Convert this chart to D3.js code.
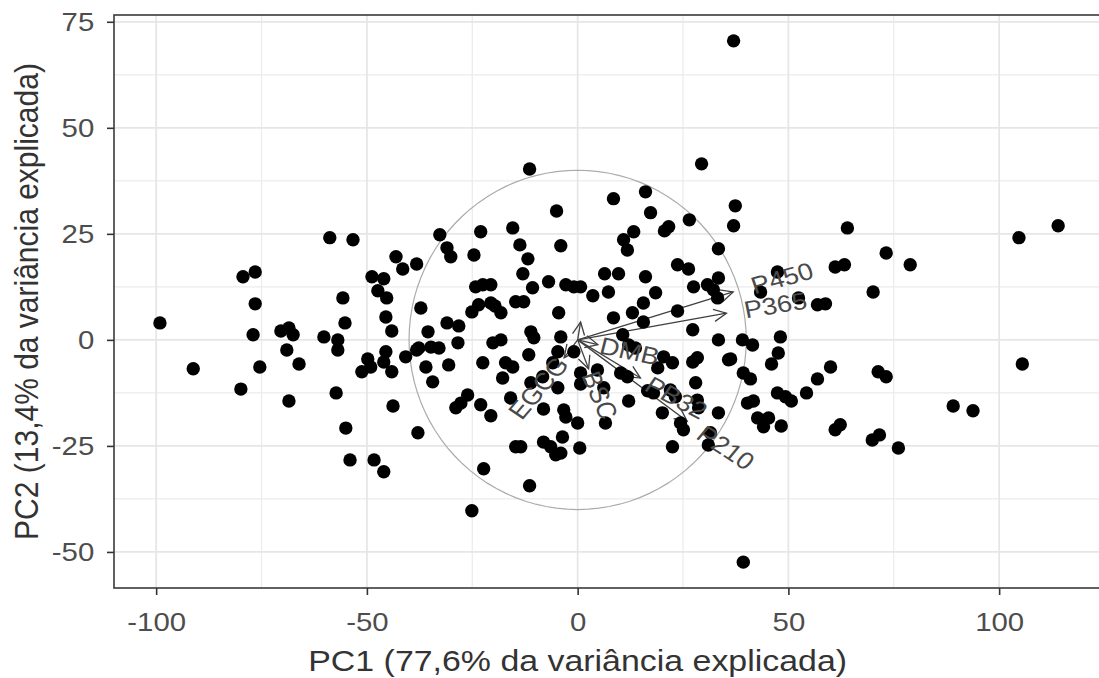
<!DOCTYPE html>
<html>
<head>
<meta charset="utf-8">
<script src="https://cdn.jsdelivr.net/npm/d3@7"></script>
<style>
  body { margin: 0; background: #fff; }
  svg text { font-family: "Liberation Sans", Arial, sans-serif; }
</style>
</head>
<body>
<div id="chart"></div>
<script>
// PCA scores
const pc1 = [-99.1, -91.2, -79.9, -79.4, -76.5, -76.5, -77.0, -75.4, -70.4, -68.5,
  -67.5, -69.0, -66.1, -68.5, -60.2, -56.9, -56.9, -57.3, -58.8, -53.3,
  -55.7, -55.2, -55.0, -54.0, -48.8, -46.0, -43.1, -41.5, -38.2, -47.4,
  -45.3, -45.5, -44.1, -37.2, -38.2, -40.8, -45.5, -46.0, -44.1, -49.8,
  -49.1, -51.2, -43.8, -48.3, -46.0, -37.9, -35.5, -31.0, -28.2, -37.7,
  -34.8, -32.9, -36.0, -34.4, -30.6, -28.4, -32.7, -31.0, -30.1, -23.0,
  -15.4, -13.7, -11.8, -24.6, -25.1, -23.5, -20.6, -19.6, -18.2, -24.2,
  -22.5, -20.6, -13.0, -10.7, -14.7, -12.8, -6.9, -2.8, -0.9, 0.7,
  -4.5, 3.6, 6.4, 9.7, 7.3, 16.1, 18.5, 15.6, 23.7, 26.3,
  23.7, 27.5, 30.8, 33.4, 33.2, 8.5, 13.0, 15.6, -11.1, 27.3,
  -11.4, 29.4, 8.5, 16.1, 17.3, -5.0, -4.0, 13.3, 10.9, 11.8,
  21.6, 20.6, 26.5, 33.4, 37.0, 37.4, 37.0, 64.0, 73.2, 78.9,
  61.1, 63.3, 70.1, 47.4, 43.4, 52.4, 56.9, 58.8, 104.7, 114.0,
  39.1, 48.1, 41.5, 105.5, 89.1, 93.8, 76.1, 69.9, 71.6, 71.3,
  73.2, 60.0, 56.9, 54.3, 61.1, 62.3, 47.4, 49.3, 50.7, 46.0,
  47.6, 36.3, 39.3, 41.0, 40.3, 41.7, 42.7, 44.1, 45.3, 48.3,
  39.3, -22.5, -20.1, -18.2, -17.1, -15.4, -17.8, -15.9, -26.1, -27.7,
  -28.9, -23.0, -20.6, -22.3, -25.1, -14.7, -13.5, -11.4, -11.6, -11.1,
  -8.3, -8.1, -8.1, -6.4, -5.2, -4.0, -3.6, -3.3, -2.8, 0.0,
  0.5, -10.4, -4.0, -4.7, -5.9, -0.9, 0.7, 4.7, 6.2, 6.6,
  12.1, 10.2, 11.8, 16.6, 20.4, 22.5, 22.0, 23.2, 20.1, 22.5,
  24.4, 25.1, 27.3, 28.4, 28.0, 28.4, 28.7, 33.4, 33.4, 35.8,
  31.0, 31.5, 0.7, -4.7, 18.0, 19.0, 10.7, 12.1, 13.7, 32.2];

const pc2 = [4.0, -6.8, -11.6, 14.9, 16.0, 8.5, 1.2, -6.4, 2.1, 2.8,
  1.2, -2.4, -5.7, -14.4, 0.7, 0.0, -2.4, -12.5, 24.1, 23.6,
  9.9, 4.0, -20.8, -28.3, 14.9, 14.4, 19.6, 16.7, 17.9, 11.6,
  9.9, 5.4, 2.1, 7.5, -2.4, -4.0, -2.8, -5.2, -7.5, -4.5,
  -6.4, -7.5, -15.6, -28.3, -31.1, -21.9, 1.9, 4.0, 3.3, -1.9,
  -1.7, -1.9, -6.4, -9.9, -5.9, -0.7, 24.8, 21.7, 19.6, 25.5,
  26.4, 22.4, 19.1, 20.0, 6.6, 8.3, 8.7, 8.0, 6.4, 12.5,
  13.0, 13.0, 15.6, 12.3, 9.0, 9.0, 13.7, 13.0, 12.5, 12.5,
  6.4, 10.4, 15.6, 15.6, 11.3, 14.9, 11.1, 8.7, 17.7, 16.7,
  6.8, 12.5, 13.0, 14.6, 9.9, 5.2, 6.4, 4.2, 1.9, 2.4,
  40.3, 41.5, 33.3, 34.9, 30.0, 30.4, 22.2, 25.5, 23.6, 21.2,
  26.7, 25.7, 28.3, 21.5, 70.5, 31.6, 26.9, 26.4, 20.5, 17.7,
  17.2, 17.7, 11.3, 16.0, 11.3, 9.9, 8.3, 8.5, 24.1, 26.9,
  0.0, 0.7, -1.2, -5.7, -15.6, -16.7, -25.5, -23.6, -22.4, -7.5,
  -8.7, -6.4, -9.2, -12.5, -21.2, -20.0, -12.5, -13.4, -14.4, -5.7,
  -3.1, -4.5, -7.8, -9.2, -14.9, -14.4, -18.4, -20.5, -18.4, -20.3,
  -52.4, -5.4, -0.7, 0.0, -5.4, -6.4, -9.0, -13.7, -13.0, -14.9,
  -16.0, -15.3, -17.9, -30.4, -40.3, -25.2, -25.2, -34.4, -3.5, -10.1,
  -8.7, -16.3, -24.1, -25.2, -27.1, -26.7, -22.9, -16.5, -18.2, -19.6,
  -25.5, 0.5, 0.7, -2.8, -5.4, -2.8, -7.8, -7.1, -11.3, -19.6,
  -14.4, -7.8, -8.7, -12.0, -4.0, -5.4, -11.8, -13.4, -17.2, -25.2,
  -19.6, -21.2, -5.2, -4.2, -10.1, -14.2, -16.0, 0.0, -17.2, -4.7,
  -24.8, -21.9, -10.4, -11.3, -12.5, -6.6, 1.2, -1.2, -1.9, 11.8];

// variable loadings (arrow tips)
const varNames = ["P450", "P365", "DMB", "PB32", "P210", "EGCG", "BSC", ""];
const varPC1 = [36.9, 35.3, 4.8, 14.9, 26.0, -3.2, 2.6, 0.7];
const varPC2 = [11.3, 6.3, -1.1, -9.0, -19.2, -4.2, -6.8, 4.2];

const xTicks = [-100, -50, 0, 50, 100];
const yTicks = [-50, -25, 0, 25, 50, 75];
const xMinor = [-75, -25, 25, 75, 125];
const yMinor = [-37.5, -12.5, 12.5, 37.5, 62.5];
const circleRadius = 40;
const xTitle = "PC1 (77,6% da variância explicada)";
const yTitle = "PC2 (13,4% da variância explicada)";

const svgWidth = 1099, svgHeight = 678;
const margin = { top: 15, left: 114 };
const plotW = 986.3, plotH = 573;
// the source picture is a little wider than tall, text included
const stretch = 1.13;

const svg = d3.select("#chart").append("svg")
    .attr("width", svgWidth)
    .attr("height", svgHeight);

const x = d3.scaleLinear().domain([-110, 124]).range([0, plotW]);
const y = d3.scaleLinear().domain([-58.5, 76.6]).range([plotH, 0]);

const g = svg.append("g")
    .attr("transform", `translate(${margin.left},${margin.top})`);

g.append("clipPath").attr("id", "clip")
  .append("rect").attr("width", plotW).attr("height", plotH);

const panel = g.append("g").attr("clip-path", "url(#clip)");

// grid, minor first
panel.selectAll(".vminor").data(xMinor).enter().append("line")
    .attr("x1", d => x(d)).attr("x2", d => x(d))
    .attr("y1", 0).attr("y2", plotH)
    .attr("stroke", "#ebebeb").attr("stroke-width", 1.2);
panel.selectAll(".hminor").data(yMinor).enter().append("line")
    .attr("y1", d => y(d)).attr("y2", d => y(d))
    .attr("x1", 0).attr("x2", plotW)
    .attr("stroke", "#ebebeb").attr("stroke-width", 1.2);
panel.selectAll(".vmajor").data(xTicks).enter().append("line")
    .attr("x1", d => x(d)).attr("x2", d => x(d))
    .attr("y1", 0).attr("y2", plotH)
    .attr("stroke", "#e6e6e6").attr("stroke-width", 1.8);
panel.selectAll(".hmajor").data(yTicks).enter().append("line")
    .attr("y1", d => y(d)).attr("y2", d => y(d))
    .attr("x1", 0).attr("x2", plotW)
    .attr("stroke", "#e6e6e6").attr("stroke-width", 1.8);

// correlation circle
const circ = d3.range(0, 101).map(i => {
    const a = i / 100 * 2 * Math.PI;
    return [circleRadius * Math.cos(a), circleRadius * Math.sin(a)];
});
panel.append("path")
    .datum(circ)
    .attr("d", d3.line().x(d => x(d[0])).y(d => y(d[1])))
    .attr("fill", "none")
    .attr("stroke", "#ababab")
    .attr("stroke-width", 1.2);

// arrows
const vars = varNames.map((n, i) => ({ name: n, vx: varPC1[i], vy: varPC2[i] }));
const arrowLen = 14, arrowAng = Math.PI / 7;
const arrows = panel.append("g")
    .attr("stroke", "#404040")
    .attr("stroke-width", 1.3)
    .attr("fill", "none");
vars.forEach(v => {
    const x0 = x(0), y0 = y(0), x1 = x(v.vx), y1 = y(v.vy);
    const a = Math.atan2(y1 - y0, x1 - x0);
    arrows.append("line")
        .attr("x1", x0).attr("y1", y0).attr("x2", x1).attr("y2", y1);
    const p1 = [x1 - arrowLen * Math.cos(a - arrowAng), y1 - arrowLen * Math.sin(a - arrowAng)];
    const p2 = [x1 - arrowLen * Math.cos(a + arrowAng), y1 - arrowLen * Math.sin(a + arrowAng)];
    arrows.append("path")
        .attr("d", `M${p1[0]},${p1[1]}L${x1},${y1}L${p2[0]},${p2[1]}`);
});

// observations
panel.append("g").selectAll("circle")
    .data(pc1.map((d, i) => [d, pc2[i]]))
    .enter()
    .append("circle")
    .attr("cx", d => x(d[0]))
    .attr("cy", d => y(d[1]))
    .attr("r", 6.7)
    .attr("fill", "#000");

// variable names, ggbiplot style: 1.12 x the tip, rotated along the arrow
const adj = 1.12;
panel.append("g").selectAll("text")
    .data(vars.filter(v => v.name !== ""))
    .enter()
    .append("text")
    .attr("transform", v => {
        const ang = Math.atan(v.vy / v.vx) * 180 / Math.PI;
        return `translate(${x(v.vx * adj)},${y(v.vy * adj)}) scale(${stretch},1) rotate(${-ang})`;
    })
    .attr("text-anchor", v => v.vx > 0 ? "start" : "end")
    .attr("dy", "0.35em")
    .attr("font-size", 24)
    .attr("fill", "#4a4a4a")
    .text(v => v.name);

// axes
const xAxis = g.append("g")
    .attr("transform", `translate(0,${plotH})`)
    .call(d3.axisBottom(x).tickValues(xTicks).tickSize(7).tickPadding(18)
        .tickFormat(d3.format("d")));
const yAxis = g.append("g")
    .call(d3.axisLeft(y).tickValues(yTicks).tickSize(7).tickPadding(10.5)
        .tickFormat(d3.format("d")));
[xAxis, yAxis].forEach(ax => {
    ax.select(".domain").remove();
    ax.selectAll(".tick line").attr("stroke", "#333").attr("stroke-width", 1.6);
    ax.selectAll(".tick text")
        .attr("font-size", 26)
        .attr("fill", "#4d4d4d")
        .attr("transform", `scale(${stretch},1)`)
        .text(function () { return d3.select(this).text().replace("−", "-"); });
});

// panel border
g.append("rect")
    .attr("width", plotW).attr("height", plotH)
    .attr("fill", "none")
    .attr("stroke", "#3a3a3a")
    .attr("stroke-width", 1.6);

// axis titles
svg.append("text")
    .attr("transform", `translate(${margin.left + x(0)},671) scale(${stretch},1)`)
    .attr("text-anchor", "middle")
    .attr("font-size", 30)
    .attr("fill", "#333")
    .text(xTitle);

svg.append("text")
    .attr("transform", `translate(38,${margin.top + plotH / 2}) scale(${stretch},1) rotate(-90)`)
    .attr("text-anchor", "middle")
    .attr("font-size", 30)
    .attr("fill", "#333")
    .text(yTitle);
</script>
</body>
</html>
